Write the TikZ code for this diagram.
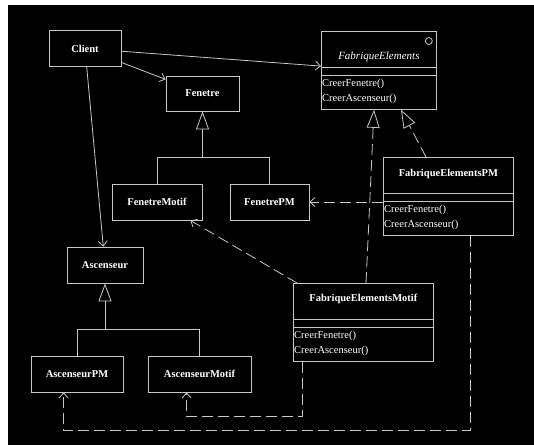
\documentclass[tikz,border=0pt]{standalone}
\usepackage{fontspec}
\setmainfont{Liberation Serif}
\usetikzlibrary{arrows.meta,calc}
\definecolor{umlgray}{RGB}{200,200,200}
\tikzset{
	simple/.style={draw=umlgray,line width=0.8pt,text=white,font=\fontsize{10.5}{12}\selectfont\bfseries,minimum height=36pt,inner sep=0pt},
	fabbox/.style={draw=umlgray,line width=0.8pt,minimum height=78pt,anchor=north west,inner sep=0pt},
	meth/.style={text=white,font=\fontsize{10.5}{12}\selectfont,anchor=west,inner sep=1pt},
	umlline/.style={draw=umlgray,line width=0.8pt},
	assoc/.style={umlline,-{Straight Barb[length=5pt,width=9pt]}},
	inherit/.style={umlline,-{Triangle[open,length=18pt,width=13pt]}},
	realize/.style={inherit,dash pattern=on 11pt off 5pt},
	depend/.style={assoc,dash pattern=on 11pt off 5pt}
}
\newcommand{\Fabrique}[6]{
	%box
	\node[fabbox,minimum width=#4pt] (#1) at (#2,#3) {};
	%name
	\node[text=white,inner sep=0pt] (#1-titre) at ($(#1.north)+(0,#6)$) {#5};
	%compartments
	\draw[umlline] ($(#1.north west)+(0,36)$)--($(#1.north east)+(0,36)$);
	\draw[umlline] ($(#1.north west)+(0,44)$)--($(#1.north east)+(0,44)$);
	%operations
	\node[meth] (#1-m1) at ($(#1.north west)+(0,53)$) {CreerFenetre()};
	\node[meth] (#1-m2) at ($(#1.north west)+(0,68)$) {CreerAscenseur()};
}

\begin{document}
\begin{tikzpicture}[x=1pt,y=-1pt]
	\useasboundingbox (0,0) rectangle (534,445);
	\fill[white] (0,0) rectangle (534,445);
	\fill[black] (8,5) rectangle (534,445);
	
	%simple classes
	\node[simple,minimum width=72pt] (client) at (85,48.5) {Client};
	\node[simple,minimum width=73pt,minimum height=35pt] (fenetre) at (202.5,93.5) {Fenetre};
	\node[simple,minimum width=90pt] (fenMotif) at (157,202) {FenetreMotif};
	\node[simple,minimum width=79pt] (fenPM) at (269.5,202) {FenetrePM};
	\node[simple,minimum width=76pt] (asc) at (105,265) {Ascenseur};
	\node[simple,minimum width=92pt] (ascPM) at (77,374) {AscenseurPM};
	\node[simple,minimum width=103pt] (ascMotif) at (199.5,374) {AscenseurMotif};
	
	%factories
	\Fabrique{fab}{321}{31}{115}{\fontsize{11}{12}\selectfont\itshape FabriqueElements}{26}
	\draw[umlline] ($(fab.north east)+(-8,10)$) circle (3.5pt);
	\Fabrique{fabPM}{383}{157}{130}{\fontsize{10.5}{12}\selectfont\bfseries FabriqueElementsPM}{17}
	\Fabrique{fabMotif}{293}{283}{140}{\fontsize{10.5}{12}\selectfont\bfseries FabriqueElementsMotif}{16}
	
	%associations
	\draw[assoc] (client)--(fenetre);
	\draw[assoc] (client)--(fab);
	\draw[assoc] (client)--(asc);
	
	%inheritance
	\coordinate (fenJoin) at ($(fenetre.south)+(0,46)$);
	\draw[inherit] (fenJoin)--(fenetre.south);
	\draw[umlline] (fenMotif.north)|-(fenJoin)-|(fenPM.north);
	\coordinate (ascJoin) at ($(asc.south)+(0,46)$);
	\draw[inherit] (ascJoin)--(asc.south);
	\draw[umlline] (ascPM.north)|-(ascJoin)-|(ascMotif.north);
	
	%realizations
	\draw[realize] ($(fabMotif.north west)+(73,0)$)--($(fab.south west)+(53,0)$);
	\draw[realize] ($(fabPM.north west)+(43,0)$)--($(fab.south west)+(80,0)$);
	
	%dependencies
	\draw[depend] (fenPM.east -| fabPM.west)--(fenPM.east);
	\draw[depend] ($(fabMotif.north west)+(4,0)$)--($(fenMotif.south east)+(-12,0)$);
	\draw[depend] ($(fabPM.south west)+(87,0)$)--++(0,195)-|($(ascPM.south west)+(33,0)$);
	\draw[depend] ($(fabMotif.south west)+(9,0)$)--++(0,55)-|($(ascMotif.south west)+(39,0)$);
\end{tikzpicture}
\end{document}
